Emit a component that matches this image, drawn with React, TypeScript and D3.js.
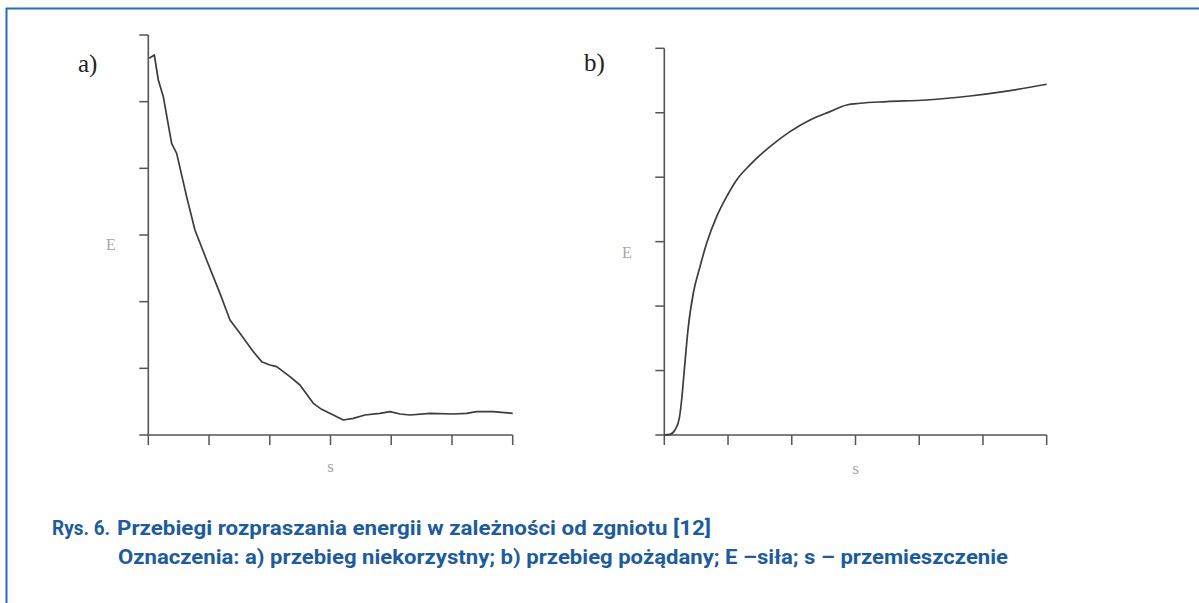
import React from "react";
import * as d3 from "d3";

// ---- data (axes have 6 unlabeled intervals) ----
const ticks = [0, 1, 2, 3, 4, 5, 6];

// a) unfavourable course
const aS = [0.016, 0.099, 0.165, 0.247, 0.384, 0.467, 0.631, 0.768, 0.96, 1.18, 1.345, 1.509, 1.729, 1.866, 2.003, 2.113, 2.332, 2.497, 2.717, 2.854, 3.046, 3.211, 3.375, 3.567, 3.815, 3.979, 4.144, 4.309, 4.638, 5.022, 5.241, 5.406, 5.68, 6.0];
const aE = [5.65, 5.7, 5.325, 5.075, 4.375, 4.225, 3.575, 3.075, 2.625, 2.125, 1.725, 1.525, 1.25, 1.1, 1.05, 1.025, 0.875, 0.75, 0.475, 0.385, 0.3, 0.225, 0.25, 0.3, 0.325, 0.35, 0.315, 0.3, 0.325, 0.315, 0.325, 0.35, 0.35, 0.325];

// b) desired course
const bS = [0, 0.089, 0.167, 0.235, 0.272, 0.314, 0.377, 0.455, 0.56, 0.664, 0.821, 0.978, 1.135, 1.344, 1.658, 1.972, 2.286, 2.6, 2.862, 3.071, 3.489, 4.117, 4.797, 5.32, 6.0];
const bE = [0, 0.01, 0.078, 0.259, 0.543, 1.009, 1.681, 2.199, 2.612, 2.974, 3.388, 3.698, 3.957, 4.19, 4.474, 4.707, 4.888, 5.017, 5.121, 5.147, 5.172, 5.198, 5.26, 5.328, 5.442];

const captionNum = "Rys. 6.";
const captionTitle = "Przebiegi rozpraszania energii w zależności od zgniotu [12]";
const captionLegend = "Oznaczenia: a) przebieg niekorzystny; b) przebieg pożądany; E –siła; s – przemieszczenie";

const AXIS = "#555";
const LINE = "#3c3c3c";
const LABEL = "#a6a6a6";
const BLUE = "#1d5c9c";

type PanelProps = {
  xs: number[];
  ys: number[];
  x0: number; x1: number; yTop: number; yBot: number;
  tag: string; tagX: number; tagY: number;
  eX: number; eY: number; sY: number;
  curve: d3.CurveFactory;
};

function Panel(p: PanelProps) {
  const x = d3.scaleLinear().domain([0, 6]).range([p.x0, p.x1]);
  const y = d3.scaleLinear().domain([0, 6]).range([p.yBot, p.yTop]);
  const pts: [number, number][] = p.xs.map((v, i) => [v, p.ys[i]]);
  const line = d3.line<[number, number]>().x(d => x(d[0])).y(d => y(d[1])).curve(p.curve);
  return (
    <g>
      <line x1={x(0)} x2={x(0)} y1={y(6)} y2={y(0)} stroke={AXIS} strokeWidth={1.6} />
      <line x1={x(0)} x2={x(6)} y1={y(0)} y2={y(0)} stroke={AXIS} strokeWidth={1.6} />
      {ticks.map(t => (
        <line key={"y" + t} x1={x(0) - 9} x2={x(0)} y1={y(t)} y2={y(t)} stroke={AXIS} strokeWidth={1.5} />
      ))}
      {ticks.map(t => (
        <line key={"x" + t} x1={x(t)} x2={x(t)} y1={y(0)} y2={y(0) + 10} stroke={AXIS} strokeWidth={1.5} />
      ))}
      <path d={line(pts) || ""} fill="none" stroke={LINE} strokeWidth={1.7} strokeLinejoin="round" />
      <text x={p.tagX} y={p.tagY} fontFamily="'Liberation Serif', 'DejaVu Serif', serif" fontSize={25} fill="#222">{p.tag}</text>
      <text x={p.eX} y={p.eY} textAnchor="middle" fontFamily="'Liberation Serif', serif" fontSize={16} fill={LABEL}>E</text>
      <text x={x(3)} y={p.sY} textAnchor="middle" fontFamily="'Liberation Serif', serif" fontSize={17} fill={LABEL}>s</text>
    </g>
  );
}

export default function App() {
  return (
    <svg width={1199} height={603} style={{ position: "absolute", left: 0, top: 0, background: "#fff" }}>
      <rect x={0} y={0} width={1199} height={603} fill="#fff" />
      <line x1={6} x2={1199} y1={8.5} y2={8.5} stroke="#2a6db0" strokeWidth={2} />
      <line x1={6.5} x2={6.5} y1={8} y2={603} stroke="#2a6db0" strokeWidth={2} />
      <Panel xs={aS} ys={aE} x0={148.3} x1={512.7} yTop={35} yBot={435}
        tag="a)" tagX={78} tagY={72} eX={111} eY={250} sY={472} curve={d3.curveLinear} />
      <Panel xs={bS} ys={bE} x0={664.3} x1={1046.7} yTop={48.3} yBot={435}
        tag="b)" tagX={584} tagY={71} eX={627} eY={258} sY={474} curve={d3.curveMonotoneX} />
      <g fontFamily="Roboto, 'Noto Sans', sans-serif" fontWeight={700} fontSize={20} fill={BLUE}>
        <text x={52} y={535} textLength={58} lengthAdjust="spacingAndGlyphs">{captionNum}</text>
        <text x={117} y={535} textLength={594} lengthAdjust="spacingAndGlyphs">{captionTitle}</text>
        <text x={118} y={564} textLength={890} lengthAdjust="spacingAndGlyphs">{captionLegend}</text>
      </g>
    </svg>
  );
}
